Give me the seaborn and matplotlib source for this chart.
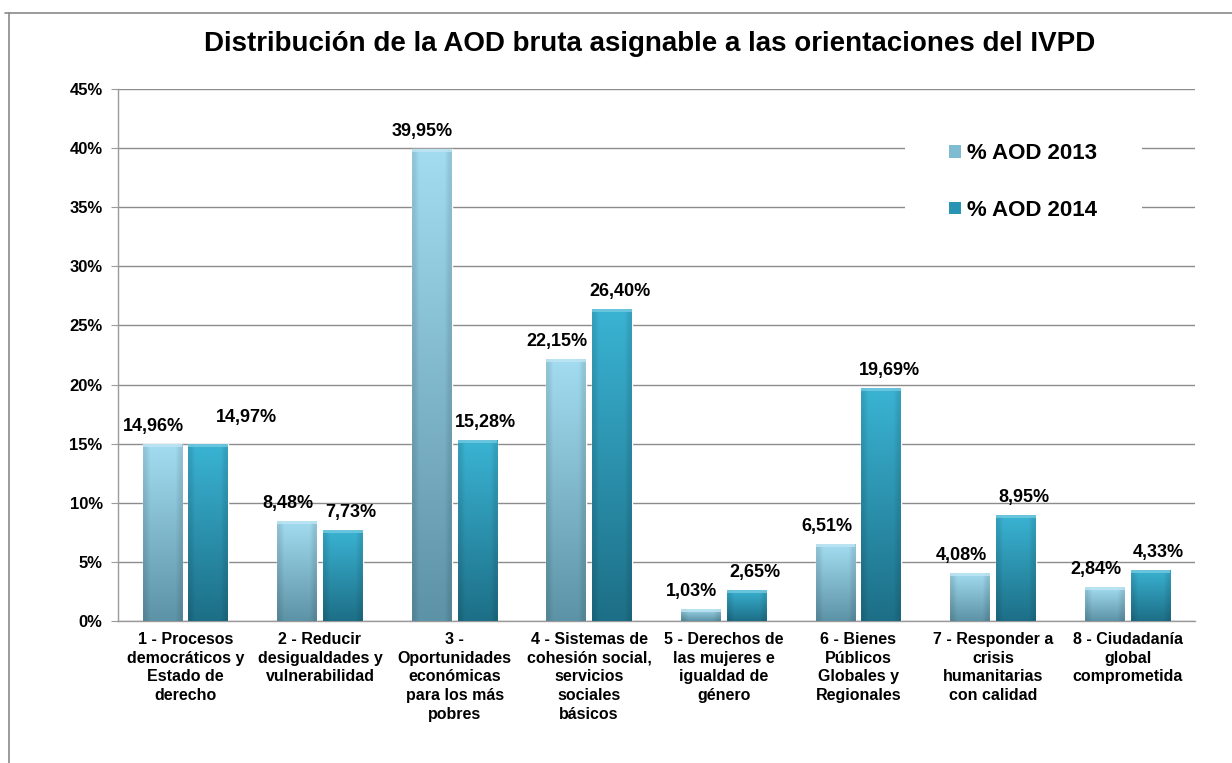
import numpy as np
import pandas as pd
import matplotlib
matplotlib.use("Agg")
import matplotlib.pyplot as plt
import matplotlib.colors as mcolors
from matplotlib.patches import Patch
from matplotlib.lines import Line2D
from matplotlib.ticker import FixedLocator
import seaborn as sns

# data
categorias = [
    "1 - Procesos\ndemocráticos y\nEstado de\nderecho",
    "2 - Reducir\ndesigualdades y\nvulnerabilidad",
    "3 -\nOportunidades\neconómicas\npara los más\npobres",
    "4 - Sistemas de\ncohesión social,\nservicios\nsociales\nbásicos",
    "5 - Derechos de\nlas mujeres e\nigualdad de\ngénero",
    "6 - Bienes\nPúblicos\nGlobales y\nRegionales",
    "7 - Responder a\ncrisis\nhumanitarias\ncon calidad",
    "8 - Ciudadanía\nglobal\ncomprometida",
]
series = ["% AOD 2013", "% AOD 2014"]
aod_2013 = [14.96, 8.48, 39.95, 22.15, 1.03, 6.51, 4.08, 2.84]
aod_2014 = [14.97, 7.73, 15.28, 26.40, 2.65, 19.69, 8.95, 4.33]
y_ticks = [0, 5, 10, 15, 20, 25, 30, 35, 40, 45]

titulo = "Distribución de la AOD bruta asignable a las orientaciones del IVPD"

# colours (top, bottom of the gradient)
grad_2013 = ("#a3dcf0", "#5d93a6")
grad_2014 = ("#3ab3d3", "#1d6f87")
mid_colors = ["#7fbcd2", "#2a94b3"]

df = pd.DataFrame({
    "categoria": categorias * 2,
    "serie": [series[0]] * len(categorias) + [series[1]] * len(categorias),
    "valor": aod_2013 + aod_2014,
})

sns.set_style("white")
plt.rcParams["font.family"] = ["Liberation Sans", "DejaVu Sans"]
plt.rcParams["font.weight"] = "bold"
plt.rcParams["text.color"] = "black"
plt.rcParams["xtick.labelcolor"] = "black"
plt.rcParams["ytick.labelcolor"] = "black"

fig = plt.figure(figsize=(12.32, 7.63), dpi=100)
ax = fig.add_axes([118 / 1232, 142 / 763, 1077 / 1232, 532 / 763])

sns.barplot(data=df, x="categoria", y="valor", hue="serie", order=categorias,
            hue_order=series, palette=mid_colors, width=0.68, gap=0.13,
            legend=False, ax=ax, zorder=2)


def gradient_fill(bar, top, bottom):
    x, y = bar.get_xy()
    w, h = bar.get_width(), bar.get_height()
    c_top = np.array(mcolors.to_rgb(top))
    c_bot = np.array(mcolors.to_rgb(bottom))
    t = np.linspace(0, 1, 64)[:, None]
    col = c_top[None, :] * (1 - t) + c_bot[None, :] * t
    img = np.repeat(col[:, None, :], 8, axis=1)
    # slightly darker edges left/right for the bevel look
    edge = np.ones(8)
    edge[0] = edge[-1] = 0.9
    img = np.clip(img * edge[None, :, None], 0, 1)
    im = ax.imshow(img, extent=[x, x + w, y, y + h], aspect="auto",
                   origin="upper", zorder=3, interpolation="bilinear")
    im.set_clip_path(bar)
    # faint lighter strip at the top of the bar
    hl = np.array(mcolors.to_rgb(top)) * 0.7 + 0.3
    ax.add_patch(plt.Rectangle((x, y + h - 0.25), w, 0.25, color=hl,
                               zorder=4, lw=0, alpha=0.8))


grads = [grad_2013, grad_2014]
offsets = [(-9, 9), (8, 9)]
for k, (cont, grad, off) in enumerate(zip(ax.containers, grads, offsets)):
    for i, bar in enumerate(cont):
        gradient_fill(bar, *grad)
        h = bar.get_height()
        dx, dy = off
        # nudge the second label up/right when both bars have the same height
        if k == 1 and abs(aod_2014[i] - aod_2013[i]) < 0.2:
            dx, dy = dx + 30, dy + 9
        ax.annotate(f"{h:.2f}%".replace(".", ","),
                    (bar.get_x() + bar.get_width() / 2, h),
                    xytext=(dx, dy), textcoords="offset pixels",
                    ha="center", va="bottom", fontsize=13,
                    fontweight="bold", zorder=5)

ax.set_xlim(-0.5, len(categorias) - 0.5)
ax.set_ylim(0, 45)
ax.set_yticks(y_ticks)
ax.set_yticklabels([f"{v}%" for v in y_ticks], fontsize=12, fontweight="bold")
ax.set_xticks(range(len(categorias)))
ax.set_xticklabels(categorias, fontsize=11.5, fontweight="bold", linespacing=1.3)
ax.xaxis.set_minor_locator(FixedLocator(np.arange(-0.5, len(categorias), 1)))
ax.tick_params(axis="x", which="major", length=0, pad=8)
ax.tick_params(axis="x", which="minor", length=5, color="#9a9a9a", direction="out")
ax.tick_params(axis="y", length=5, color="#9a9a9a", direction="out", pad=6, left=True)
ax.set_xlabel("")
ax.set_ylabel("")

ax.grid(axis="y", color="#8c8c8c", lw=1, zorder=0)
ax.set_axisbelow(True)
for s in ["top", "right"]:
    ax.spines[s].set_visible(False)
for s in ["left", "bottom"]:
    ax.spines[s].set_color("#9a9a9a")
    ax.spines[s].set_linewidth(1)

handles = [Patch(facecolor=c, edgecolor="none") for c in mid_colors]
leg = ax.legend(handles, series, loc="upper left",
                bbox_to_anchor=(905 / 1232, 1 - 99 / 763),
                bbox_transform=fig.transFigure, frameon=True, fancybox=False,
                facecolor="white", edgecolor="none", framealpha=1,
                borderpad=2.0, borderaxespad=0, handlelength=0.5,
                handleheight=0.5, handletextpad=0.3, labelspacing=1.6,
                prop={"size": 16, "weight": "bold"})
leg.set_zorder(6)

fig.text(650 / 1232, 1 - 44 / 763, titulo, ha="center", va="center",
         fontsize=20, fontweight="bold")

# outer chart frame (top and left edges visible in the reference)
fig.add_artist(Line2D([5 / 1232, 1], [1 - 13 / 763] * 2, color="#8a8a8a", lw=1.2))
fig.add_artist(Line2D([9 / 1232] * 2, [0, 1 - 13 / 763], color="#8a8a8a", lw=1.2))

fig.savefig("out.png", dpi=100)
